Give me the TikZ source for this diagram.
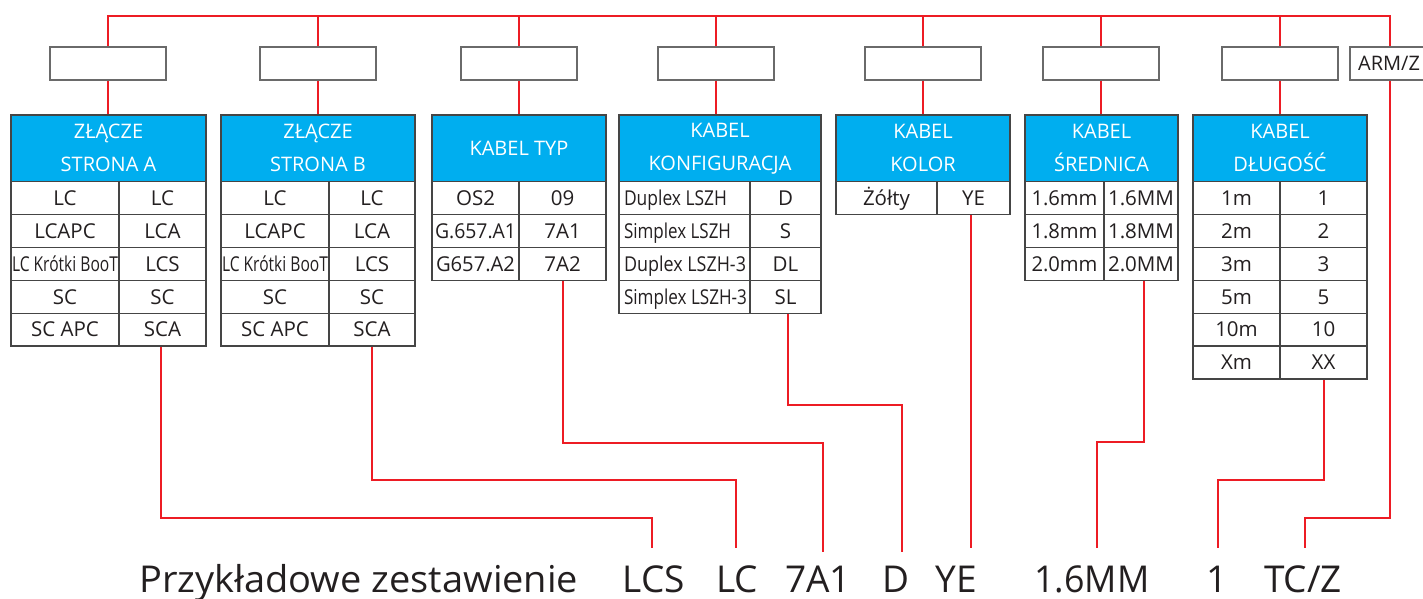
\documentclass[tikz,border=0pt]{standalone}
\usepackage{fontspec}
\setmainfont{Open Sans}
\usepackage{graphicx}
\definecolor{hdr}{HTML}{00AEEF}
\definecolor{rd}{HTML}{ED1C24}
\definecolor{ink}{HTML}{231F20}
\definecolor{bord}{HTML}{454545}
\definecolor{boxb}{HTML}{6A6A6A}
\newcommand\ptable[6]{%
  \pgfmathsetmacro\wA{#3-#2}\pgfmathsetmacro\wB{#4-#3}\pgfmathsetmacro\wH{#4-#2}%
  \node[hdrcell, minimum width=\wH pt, minimum height=66.5pt] (#1h) at ({(#2+#4)/2},148.25) {#5};
  \foreach \l/\r [count=\i] in {#6} {
    \node[cell, minimum width=\wA pt] (#1-\i-a) at ({(#2+#3)/2},{181.5+32.9*(\i-0.5)}) {\l};
    \node[cell, minimum width=\wB pt] (#1-\i-b) at ({(#3+#4)/2},{181.5+32.9*(\i-0.5)}) {\r};
  }%
}
\newcommand\sqz[2]{\resizebox{#1}{\height}{#2}}
\newcommand\lft[2]{\makebox[121pt][l]{\resizebox{#1}{\height}{#2}}}
\begin{document}
\begin{tikzpicture}[x=1pt,y=-1pt,
  wire/.style={draw=rd, line width=2pt},
  codebox/.style={draw=boxb, line width=1.3pt, fill=white, minimum width=116pt, minimum height=33pt, inner sep=0pt, text=ink, font=\fontsize{20}{24}\selectfont},
  hdrcell/.style={draw=bord, line width=1.3pt, fill=hdr, text=white, inner sep=0pt, align=center, font=\fontsize{20}{33}\selectfont},
  cell/.style={draw=bord, line width=1.2pt, fill=white, inner sep=0pt, text=ink, minimum height=32.9pt, font=\fontsize{20.5}{24}\selectfont, text height=14.8pt, text depth=0pt},
  big/.style={inner sep=0pt, text=ink, font=\fontsize{37}{40}\selectfont, anchor=base}]
\useasboundingbox (0,0) rectangle (1423,598);
\coordinate (tl) at (0,16);
\coordinate (ends) at (0,548);
\coordinate (ends2) at (0,552);
% top boxes
\node[codebox] (b1) at (108,63.5) {};
\node[codebox] (b2) at (318,63.5) {};
\node[codebox] (b3) at (519,63.5) {};
\node[codebox] (b4) at (716,63.5) {};
\node[codebox] (b5) at (923,63.5) {};
\node[codebox] (b6) at (1101,63.5) {};
\node[codebox] (b7) at (1280,63.5) {};
\node[codebox, minimum width=80pt] (barm) at (1390,63.5) {\hspace*{-2pt}ARM/Z};
% tables
\ptable{t1}{11}{119}{206}{ZŁĄCZE\\STRONA A}{LC/LC,LCAPC/LCA,{\sqz{106pt}{LC Krótki BooT}}/LCS,SC/SC,SC APC/SCA}
\ptable{t2}{221}{329}{415}{ZŁĄCZE\\STRONA B}{LC/LC,LCAPC/LCA,{\sqz{106pt}{LC Krótki BooT}}/LCS,SC/SC,SC APC/SCA}
\ptable{t3}{432}{519}{606}{KABEL TYP}{OS2/09,{\sqz{81pt}{G.657.A1}}/7A1,{\sqz{79pt}{G657.A2}}/7A2}
\ptable{t4}{619}{750}{821}{KABEL\\KONFIGURACJA}{{\lft{103pt}{Duplex LSZH}}/D,{\lft{107pt}{Simplex LSZH}}/S,{\lft{122pt}{Duplex LSZH-3}}/DL,{\lft{123pt}{Simplex LSZH-3}}/SL}
\ptable{t5}{836}{937}{1010}{KABEL\\KOLOR}{Żółty/YE}
\ptable{t6}{1025}{1104}{1178}{KABEL\\ŚREDNICA}{{\sqz{66pt}{1.6mm}}/{\sqz{66pt}{1.6MM}},{\sqz{66pt}{1.8mm}}/{\sqz{66pt}{1.8MM}},{\sqz{66pt}{2.0mm}}/{\sqz{66pt}{2.0MM}}}
\ptable{t7}{1193}{1280}{1367}{KABEL\\DŁUGOŚĆ}{1m/1,2m/2,3m/3,5m/5,10m/10,Xm/XX}
% top wiring
\draw[wire] (b1.north) -- (b1.north |- tl) -- (barm.north |- tl) -- (barm.north);
\foreach \b in {b2,b3,b4,b5,b6,b7} \draw[wire] (\b.north) -- (\b.north |- tl);
\draw[wire] (b1.south) -- (b1.south |- t1h.north);
\draw[wire] (b2.south) -- (b2.south |- t2h.north);
\draw[wire] (b3.south) -- (b3.south |- t3h.north);
\draw[wire] (b4.south) -- (b4.south |- t4h.north);
\draw[wire] (b5.south) -- (b5.south |- t5h.north);
\draw[wire] (b6.south) -- (b6.south |- t6h.north);
\draw[wire] (b7.south) -- (b7.south |- t7h.north);
% bottom labels
\node[big, anchor=base west] (lblmain) at (139,592) {\sqz{439pt}{Przykładowe zestawienie}};
\node[big] (lcs) at (654,592) {LCS};
\node[big] (lc) at (737,592) {LC};
\node[big] (a71) at (818,592) {7A1};
\node[big] (dd) at (896,592) {D};
\node[big] (ye) at (956,592) {YE};
\node[big] (mm) at (1092,592) {\sqz{115pt}{1.6MM}};
\node[big] (one) at (1217.5,592) {1};
\node[big] (tcz) at (1303,592) {TC/Z};
% corner coordinates
\coordinate (k1) at (652,518);
\coordinate (k2) at (736,480);
\coordinate (k3) at (822.5,443);
\coordinate (k4) at (902,405);
\coordinate (k6) at (1096.5,442);
\coordinate (k7) at (1218,480);
\coordinate (k8) at (1305,518);
% bottom wiring
\draw[wire] ([xshift=-2pt]t1-5-b.south) |- (k1) -- (k1 |- ends);
\draw[wire] (t2-5-b.south) |- (k2) -- (k2 |- ends);
\draw[wire] (t3-3-b.south) |- (k3) -- (k3 |- ends2);
\draw[wire] ([xshift=2.5pt]t4-4-b.south) |- (k4) -- (k4 |- ends2);
\draw[wire] ([xshift=-2.5pt]t5-1-b.south) -- ([xshift=-2.5pt]t5-1-b.south |- ends);
\draw[wire] ([xshift=3pt]t6-3-b.south) |- (k6) -- (k6 |- ends);
\draw[wire] (t7-6-b.south) |- (k7) -- (k7 |- ends);
\draw[wire] (barm.south) |- (k8) -- (k8 |- ends);
\end{tikzpicture}
\end{document}
